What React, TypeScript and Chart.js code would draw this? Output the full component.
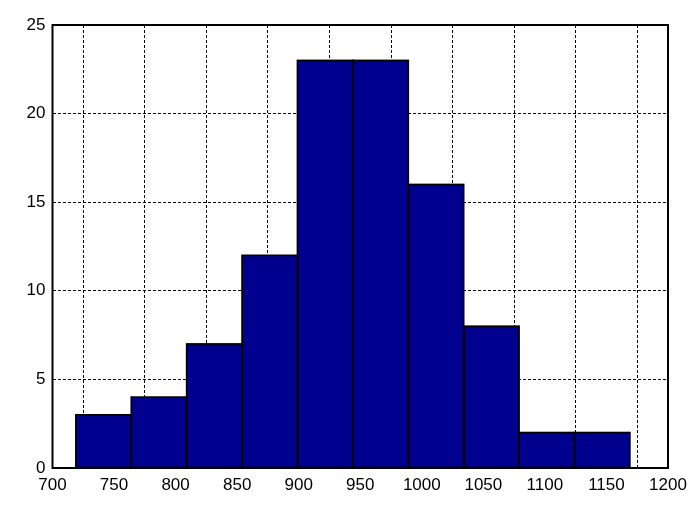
import React, { useEffect, useRef } from "react";
import { Chart, registerables } from "chart.js";

Chart.register(...registerables);

const binCenters = [741.5, 786.5, 831.5, 876.5, 921.5, 966.5, 1011.5, 1056.5, 1101.5, 1146.5];
const counts = [3, 4, 7, 12, 23, 23, 16, 8, 2, 2];
const xTicks = [700, 750, 800, 850, 900, 950, 1000, 1050, 1100, 1150, 1200];
const yTicks = [0, 5, 10, 15, 20, 25];

const BAR_COLOR = "#00008F";
const FONT = "'Liberation Sans', Arial, Helvetica, sans-serif";

// Outline each bar (edge-centred, like MATLAB) and draw the axes box.
const outlinePlugin = {
  id: "outline",
  afterDatasetsDraw(chart: any) {
    const { ctx, chartArea } = chart;
    ctx.save();
    ctx.strokeStyle = "#000";
    ctx.lineWidth = 1.7;
    const meta = chart.getDatasetMeta(0);
    meta.data.forEach((el: any) => {
      const { x, y, base, width } = el.getProps(["x", "y", "base", "width"], true);
      ctx.strokeRect(x - width / 2, y, width, base - y);
    });
    ctx.lineWidth = 2;
    ctx.strokeRect(chartArea.left, chartArea.top, chartArea.right - chartArea.left, chartArea.bottom - chartArea.top);
    ctx.restore();
  },
};

export default function App() {
  const ref = useRef<HTMLCanvasElement>(null);
  useEffect(() => {
    document.body.style.margin = "0";
    const chart = new Chart(ref.current!, {
      type: "bar",
      data: {
        datasets: [
          {
            data: binCenters.map((x, i) => ({ x, y: counts[i] })),
            backgroundColor: BAR_COLOR,
            borderWidth: 0,
            inflateAmount: 0,
            barPercentage: 1,
            categoryPercentage: 1,
          } as any,
        ],
      },
      options: {
        animation: false,
        responsive: false,
        maintainAspectRatio: false,
        layout: { padding: { top: 25, right: 20, left: 0, bottom: 0 } },
        plugins: { legend: { display: false }, tooltip: { enabled: false } },
        scales: {
          x: {
            type: "linear",
            min: 700,
            max: 1200,
            offset: false,
            afterBuildTicks: (s: any) => { s.ticks = xTicks.map((v) => ({ value: v })); },
            afterFit: (s: any) => { s.height = 48; s.paddingLeft = 0; s.paddingRight = 0; },
            ticks: {
              autoSkip: false, maxRotation: 0, color: "#000", font: { family: FONT, size: 17 }, padding: 7,
              callback: (v: any) => String(v),
            },
            grid: { color: "#000", lineWidth: 1, tickLength: 0, drawTicks: false },
            border: { display: false, dash: [3, 2] },
          },
          y: {
            min: 0,
            max: 25,
            afterBuildTicks: (s: any) => { s.ticks = yTicks.map((v) => ({ value: v })); },
            afterFit: (s: any) => { s.width = 52.5; s.paddingTop = 0; s.paddingBottom = 0; },
            ticks: { color: "#000", font: { family: FONT, size: 17 }, padding: 7, callback: (v: any) => String(v) },
            grid: { color: "#000", lineWidth: 1, tickLength: 0, drawTicks: false },
            border: { display: false, dash: [3, 2] },
          },
        },
      },
      plugins: [outlinePlugin],
    });
    return () => chart.destroy();
  }, []);
  return (
    <div style={{ width: 688, height: 516, background: "#fff" }}>
      <canvas ref={ref} width={688} height={516} style={{ display: "block" }} />
    </div>
  );
}
